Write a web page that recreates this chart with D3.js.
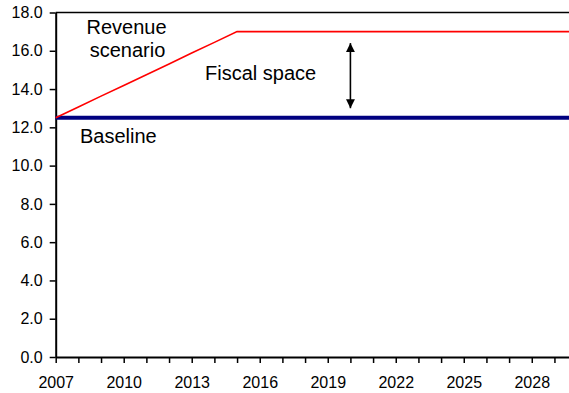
<!DOCTYPE html>
<html>
<head>
<meta charset="utf-8">
<script src="https://cdn.jsdelivr.net/npm/d3@7"></script>
<style>
  html, body { margin: 0; padding: 0; background: #fff; }
  svg { display: block; font-family: "Liberation Sans", Arial, sans-serif; }
</style>
</head>
<body>
<svg id="chart" width="569" height="393"></svg>
<script>
// Years on the category axis
const years = d3.range(2007, 2031);

// Revenue scenario: ramps up to 2015, then held flat (% of GDP)
const revenueScenario = [12.5, 13.06, 13.63, 14.19, 14.75, 15.31, 15.88, 16.44, 17.0,
  17.0, 17.0, 17.0, 17.0, 17.0, 17.0, 17.0, 17.0, 17.0, 17.0, 17.0, 17.0, 17.0, 17.0, 17.0];

// Baseline revenue (% of GDP)
const baseline = [12.5, 12.5, 12.5, 12.5, 12.5, 12.5, 12.5, 12.5, 12.5,
  12.5, 12.5, 12.5, 12.5, 12.5, 12.5, 12.5, 12.5, 12.5, 12.5, 12.5, 12.5, 12.5, 12.5, 12.5];

// Axis ticks
const yTicks = [0, 2, 4, 6, 8, 10, 12, 14, 16, 18];
const xLabelYears = [2007, 2010, 2013, 2016, 2019, 2022, 2025, 2028];

// Fiscal space arrow: year and the two ends
const arrowYear = 2020;
const arrowRange = [16.4, 13.0];

(function draw() {
  const svg = d3.select("#chart");
  const W = 569;
  const plotLeft = 55.7, plotTop = 12.5, plotBottom = 357;
  const step = 22.67;

  const x = d3.scaleLinear().domain([2007, 2030]).range([plotLeft, plotLeft + 23 * step]);
  const y = d3.scaleLinear().domain([0, 18]).range([plotBottom, plotTop]);

  // Top border of the plot area
  svg.append("line")
    .attr("x1", plotLeft).attr("x2", W)
    .attr("y1", y(18)).attr("y2", y(18))
    .attr("stroke", "#000").attr("stroke-width", 1.5);

  // Y axis
  const yAxis = svg.append("g")
    .attr("transform", `translate(${plotLeft},0)`)
    .call(d3.axisLeft(y).tickValues(yTicks).tickFormat(d3.format(".1f"))
      .tickSizeInner(6).tickSizeOuter(0).tickPadding(7));
  yAxis.select(".domain").attr("stroke-width", 2);
  yAxis.selectAll(".tick line").attr("stroke-width", 1.5);
  yAxis.selectAll("text").attr("font-size", 16).attr("fill", "#000")
    .attr("font-family", "Liberation Sans, Arial, sans-serif");

  // X axis: a tick every year, labels every third year
  const xAxis = svg.append("g")
    .attr("transform", `translate(0,${plotBottom})`)
    .call(d3.axisBottom(x).tickValues(years.filter(v => v < 2030))
      .tickFormat(d => xLabelYears.includes(d) ? String(d) : "")
      .tickSizeInner(6).tickSizeOuter(0).tickPadding(14));
  xAxis.select(".domain").attr("stroke-width", 2);
  xAxis.selectAll(".tick line").attr("stroke-width", 1.5);
  xAxis.selectAll("text").attr("font-size", 16).attr("fill", "#000")
    .attr("font-family", "Liberation Sans, Arial, sans-serif");

  const line = d3.line().x((d, i) => x(years[i])).y(d => y(d));

  // Baseline series
  svg.append("path")
    .datum(baseline)
    .attr("d", line)
    .attr("fill", "none")
    .attr("stroke", "#000080")
    .attr("stroke-width", 4);

  // Revenue scenario series
  svg.append("path")
    .datum(revenueScenario)
    .attr("d", line)
    .attr("fill", "none")
    .attr("stroke", "#ff0000")
    .attr("stroke-width", 1.6);

  // Double-headed arrow marking the fiscal space
  const defs = svg.append("defs");
  defs.append("marker")
    .attr("id", "head")
    .attr("viewBox", "0 0 10 10")
    .attr("refX", 10).attr("refY", 5)
    .attr("markerWidth", 10).attr("markerHeight", 9)
    .attr("markerUnits", "userSpaceOnUse")
    .attr("orient", "auto-start-reverse")
    .append("path")
    .attr("d", "M0,0 L10,5 L0,10 Z")
    .attr("fill", "#000");

  svg.append("line")
    .attr("x1", x(arrowYear)).attr("x2", x(arrowYear))
    .attr("y1", y(arrowRange[0])).attr("y2", y(arrowRange[1]))
    .attr("stroke", "#000").attr("stroke-width", 1.6)
    .attr("marker-start", "url(#head)")
    .attr("marker-end", "url(#head)");

  // Annotations
  const note = (txt, tx, ty, anchor) => svg.append("text")
    .attr("x", tx).attr("y", ty)
    .attr("text-anchor", anchor || "start")
    .attr("font-size", 20)
    .attr("fill", "#000")
    .text(txt);

  note("Revenue", 126.5, 34, "middle");
  note("scenario", 127.5, 56.5, "middle");
  note("Fiscal space", 205, 80);
  note("Baseline", 80, 143);
})();
</script>
</body>
</html>
